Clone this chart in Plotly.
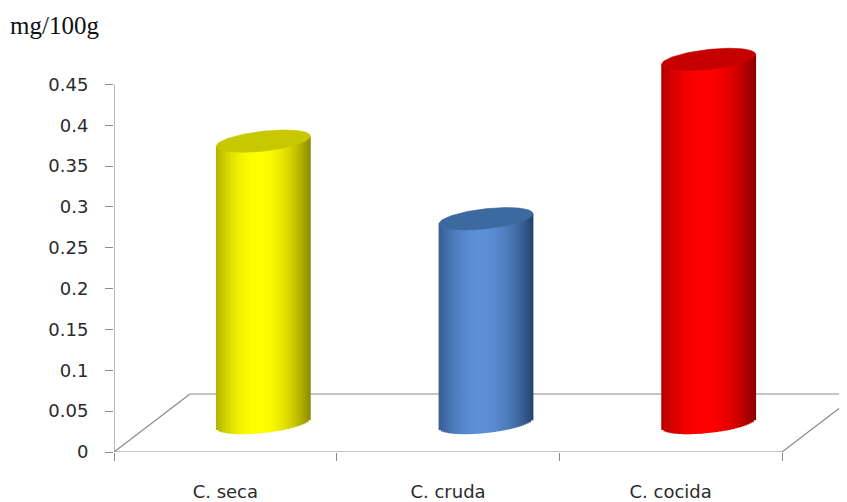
import plotly.graph_objects as go
import numpy as np

# ---------------- data ----------------
categories = ["C. seca", "C. cruda", "C. cocida"]
values = [0.345, 0.25, 0.445]
y_tick_values = [0, 0.05, 0.1, 0.15, 0.2, 0.25, 0.3, 0.35, 0.4, 0.45]
y_tick_labels = ["0", "0.05", "0.1", "0.15", "0.2", "0.25", "0.3", "0.35", "0.4", "0.45"]
unit_label = "mg/100g"

# ---------------- styles ----------------
center_colors = [(255, 255, 0), (92, 143, 214), (255, 0, 0)]
edge_colors = [(140, 140, 0), (36, 68, 112), (140, 0, 0)]
cap_colors = ["#c8c800", "#3b69a0", "#c60000"]
axis_color = "#8a8a8a"
text_color = "#2b2b2b"

# the page adds an 8px body margin; compensate in the layout
W, H = 847, 502
L, R, T, B = 106, 0, 12, 58
plot_w = W - L - R
plot_h = H - T - B
px_x = 222.67          # pixels per category
px_y = 817.0           # pixels per unit value
x_range = [-0.5, -0.5 + plot_w / px_x]
y_range = [0, plot_h / px_y]

floor_depth_px = 58    # vertical depth of floor
floor_shift_px = 76    # horizontal depth shift of floor
zero2 = (floor_depth_px / 2) / px_y
y2_range = [-zero2, y_range[1] - zero2]
x_shift = (floor_shift_px / 2) / px_x

half_w = 47 / px_x     # cylinder radius in x units
ell_b = 10.0           # ellipse semi-minor (px)
shear = 5.0            # right end higher by this many px
N = 40

fig = go.Figure()

xs_center = [i + x_shift for i in range(len(categories))]

def shade(t, ci):
    t0 = 0.45
    m = 1 - ((t - t0) / (1 - t0)) ** 2
    m = max(0.0, min(1.0, m))
    c = center_colors[ci]
    e = edge_colors[ci]
    return "rgb(%d,%d,%d)" % tuple(round(e[j] + (c[j] - e[j]) * m) for j in range(3))

sw = 2 * half_w / N
for k in range(N):
    u = -1 + (2 * k + 1) / N
    t = (u + 1) / 2
    bases = []
    heights = []
    cols = []
    for i, v in enumerate(values):
        base = (-ell_b * np.sqrt(max(0.0, 1 - u * u)) + shear * u) / px_y
        top = v + shear * u / px_y
        bases.append(base)
        heights.append(top - base)
        cols.append(shade(t, i))
    fig.add_trace(go.Bar(
        x=[xc + u * half_w for xc in xs_center], y=heights, base=bases,
        width=sw * 1.35, marker=dict(color=cols, line=dict(width=0)),
        xaxis="x", yaxis="y2", showlegend=False, hoverinfo="skip"))

# top caps
phi = np.linspace(0, 2 * np.pi, 120)
for i, v in enumerate(values):
    cx = xs_center[i] + half_w * np.cos(phi)
    cy = v + (ell_b * np.sin(phi) + shear * np.cos(phi)) / px_y
    fig.add_trace(go.Scatter(
        x=cx, y=cy, mode="lines", fill="toself", fillcolor=cap_colors[i],
        line=dict(width=0.6, color=cap_colors[i]),
        xaxis="x", yaxis="y2", showlegend=False, hoverinfo="skip"))

# floor / axes lines
depth_y = floor_depth_px / px_y
dxd = floor_shift_px / px_x
line = dict(color=axis_color, width=1.2)
shapes = [
    dict(type="line", x0=-0.5, y0=0, x1=2.5, y1=0, xref="x", yref="y", line=line, layer="below"),
    dict(type="line", x0=-0.5, y0=0, x1=-0.5 + dxd, y1=depth_y, xref="x", yref="y", line=line, layer="below"),
    dict(type="line", x0=-0.5 + dxd, y0=depth_y, x1=x_range[1], y1=depth_y, xref="x", yref="y", line=line, layer="below"),
    dict(type="line", x0=2.5, y0=0, x1=2.5 + dxd, y1=depth_y, xref="x", yref="y", line=line, layer="below"),
    dict(type="line", x0=-0.5, y0=0, x1=-0.5, y1=y_tick_values[-1], xref="x", yref="y", line=line, layer="below"),
]

fig.update_layout(
    width=W, height=H,
    margin=dict(l=L, r=R, t=T, b=B),
    paper_bgcolor="white", plot_bgcolor="white",
    barmode="overlay",
    showlegend=False,
    shapes=shapes,
    xaxis=dict(range=x_range, showgrid=False, zeroline=False, showline=False,
               tickvals=list(range(len(categories))), ticktext=categories,
               ticks="", ticklabelstandoff=27,
               tickfont=dict(family="DejaVu Sans", size=18, color=text_color),
               minor=dict(tickmode="array", tickvals=[-0.5, 0.5, 1.5, 2.5], ticks="outside",
                          ticklen=8, tickcolor=axis_color, tickwidth=1.2, showgrid=False),
               fixedrange=True),
    yaxis=dict(range=y_range, showgrid=False, zeroline=False, showline=False,
               tickvals=y_tick_values, ticktext=y_tick_labels,
               ticks="outside", ticklen=8, tickcolor=axis_color, tickwidth=1.2,
               ticklabelstandoff=13,
               tickfont=dict(family="DejaVu Sans", size=18, color=text_color),
               fixedrange=True),
    yaxis2=dict(range=y2_range, overlaying="y", visible=False, fixedrange=True),
    annotations=[dict(text=unit_label, xref="paper", yref="paper",
                      x=(0 - L) / plot_w, y=(H - B - 18) / plot_h,
                      xanchor="left", yanchor="middle", showarrow=False,
                      font=dict(family="Liberation Serif", size=25, color="#111111"))],
)

fig.write_html("out.html")
